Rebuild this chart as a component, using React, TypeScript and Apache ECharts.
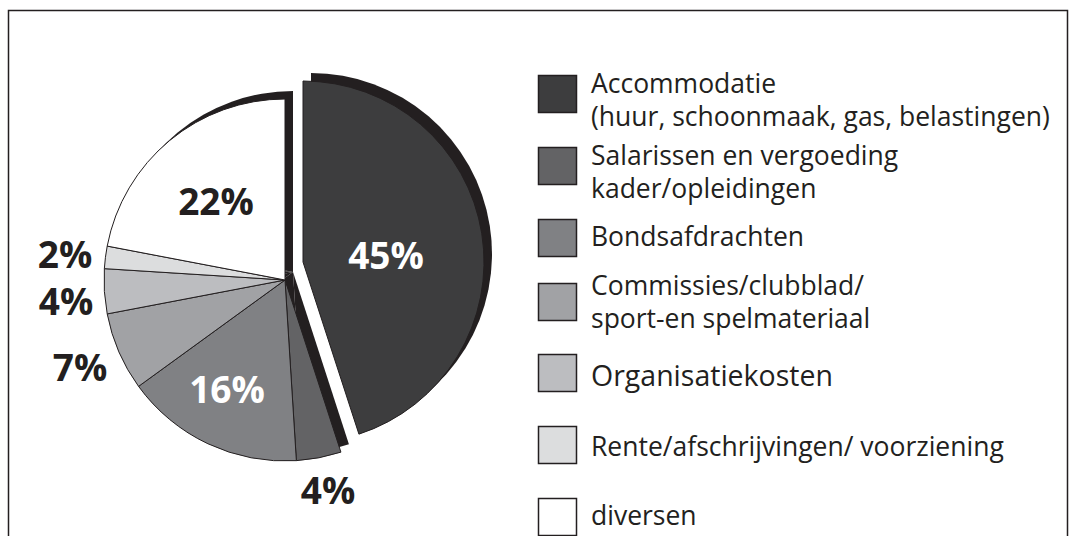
import React, { useEffect, useRef } from "react";
import * as echarts from "echarts";

// ---- data ----
const categories = [
  "Accommodatie\n(huur, schoonmaak, gas, belastingen)",
  "Salarissen en vergoeding\nkader/opleidingen",
  "Bondsafdrachten",
  "Commissies/clubblad/\nsport-en spelmateriaal",
  "Organisatiekosten",
  "Rente/afschrijvingen/ voorziening",
  "diversen",
];
const values = [45, 4, 16, 7, 4, 2, 22];
const explodedIndex = 0;

// ---- styles / layout ----
const colors = ["#3d3d3e", "#636365", "#808184", "#a1a2a5", "#bcbdc0", "#dcddde", "#ffffff"];
const labelColors = ["#ffffff", "#231f20", "#ffffff", "#231f20", "#231f20", "#231f20", "#231f20"];
const labelPos: [number, number][] = [
  [386, 254], [328, 489], [227, 388], [80, 366], [66, 300], [65, 253], [216, 200],
];
const legendTop = [75, 147, 219, 283, 354, 426, 498];
const legendTextY = [99, 171, 236, 301, 375, 446, 515];
const legendFontSize = [26.5, 26.5, 26.5, 26.5, 28.5, 26.5, 26.5];

const INK = "#231f20";
const CENTER: [number, number] = [285, 280];
const R = 181;
const EXPLODE: [number, number] = [18, -18];
const SHADOW: [number, number] = [8, -8];
const FONT = '"Open Sans", "Noto Sans", sans-serif';

const hidden = { color: "rgba(0,0,0,0)", borderWidth: 0, borderColor: "rgba(0,0,0,0)" };

function pieSeries(center: [number, number], itemFn: (i: number) => any, z: number) {
  return {
    type: "pie",
    center,
    radius: [0, R],
    startAngle: 90,
    clockwise: true,
    silent: true,
    z,
    avoidLabelOverlap: false,
    label: { show: false },
    labelLine: { show: false },
    emphasis: { disabled: true },
    data: values.map((v, i) => ({ value: v, name: categories[i], itemStyle: itemFn(i) })),
  };
}

export default function App() {
  const ref = useRef<HTMLDivElement>(null);
  useEffect(() => {
    if (!ref.current) return;
    const chart = echarts.init(ref.current, null, { renderer: "svg" });
    const exCenter: [number, number] = [CENTER[0] + EXPLODE[0], CENTER[1] + EXPLODE[1]];

    const series = [
      pieSeries([CENTER[0] + SHADOW[0], CENTER[1] + SHADOW[1]], (i) =>
        i === explodedIndex ? hidden : { color: INK, borderWidth: 0 }, 1),
      pieSeries(CENTER, (i) =>
        i === explodedIndex ? hidden : { color: colors[i], borderColor: INK, borderWidth: 1 }, 2),
      pieSeries([exCenter[0] + SHADOW[0], exCenter[1] + SHADOW[1]], (i) =>
        i === explodedIndex ? { color: INK, borderWidth: 0 } : hidden, 3),
      pieSeries(exCenter, (i) =>
        i === explodedIndex ? { color: colors[i], borderColor: INK, borderWidth: 1 } : hidden, 4),
    ];

    const graphics: any[] = [
      {
        type: "rect",
        z: 0,
        shape: { x: 8.5, y: 10.5, width: 1059, height: 540 },
        style: { fill: "none", stroke: INK, lineWidth: 1.5 },
      },
    ];
    values.forEach((v, i) => {
      graphics.push({
        type: "text",
        z: 100,
        x: labelPos[i][0],
        y: labelPos[i][1],
        style: {
          text: `${v}%`,
          fill: labelColors[i],
          fontFamily: FONT,
          fontWeight: "bold",
          fontSize: 37,
          align: "center",
          verticalAlign: "middle",
        },
      });
    });
    categories.forEach((name, i) => {
      graphics.push({
        type: "rect",
        z: 100,
        shape: { x: 538.5, y: legendTop[i] + 0.5, width: 38, height: 37 },
        style: { fill: colors[i], stroke: INK, lineWidth: 1.5 },
      });
      graphics.push({
        type: "text",
        z: 100,
        x: 591,
        y: legendTextY[i],
        style: {
          text: name,
          fill: INK,
          fontFamily: FONT,
          fontSize: legendFontSize[i],
          lineHeight: 33,
          align: "left",
          verticalAlign: "middle",
        },
      });
    });

    chart.setOption({
      animation: false,
      backgroundColor: "#ffffff",
      series,
      graphic: graphics,
    });
    return () => chart.dispose();
  }, []);
  return (
    <div
      ref={ref}
      style={{ position: "fixed", left: 0, top: 0, width: 1075, height: 536 }}
    />
  );
}
